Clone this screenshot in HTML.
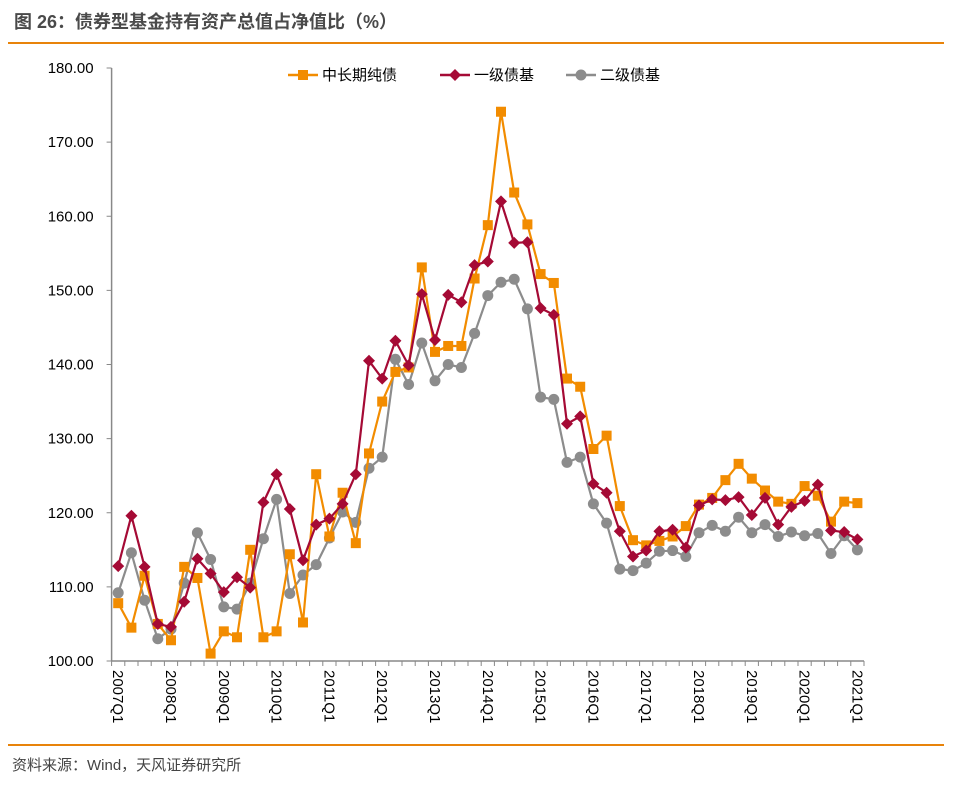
<!DOCTYPE html>
<html><head><meta charset="utf-8"><style>
body{margin:0;background:#fff;width:961px;height:780px;overflow:hidden;font-family:"Liberation Sans","Noto Sans CJK SC",sans-serif;}
</style></head><body>
<svg width="961" height="780" xmlns="http://www.w3.org/2000/svg" font-family="Liberation Sans, Noto Sans CJK SC, sans-serif">
<text x="14" y="28" font-size="18" font-weight="bold" fill="#4a4a4a">图 26：债券型基金持有资产总值占净值比（%）</text>
<line x1="8" y1="43" x2="944" y2="43" stroke="#e8830a" stroke-width="2"/>
<line x1="8" y1="745" x2="944" y2="745" stroke="#e8830a" stroke-width="2"/>
<text x="12" y="770" font-size="15" fill="#444">资料来源：Wind，天风证券研究所</text>
<g id="axes"></g>
<g id="series"></g>
<g font-size="15" fill="#000">
 <line x1="288" y1="75" x2="318" y2="75" stroke="#f28c00" stroke-width="2.5"/><rect x="298" y="70" width="10" height="10" fill="#f28c00"/>
 <text x="322" y="80">中长期纯债</text>
 <line x1="440" y1="75" x2="470" y2="75" stroke="#a50a35" stroke-width="2.5"/><path d="M455 69 L461 75 L455 81 L449 75Z" fill="#a50a35"/>
 <text x="474" y="80">一级债基</text>
 <line x1="566" y1="75" x2="596" y2="75" stroke="#8c8c8c" stroke-width="2.5"/><circle cx="581" cy="75" r="5.5" fill="#8c8c8c"/>
 <text x="600" y="80">二级债基</text>
</g>
</svg>
<script>
const years=["2007","2008","2009","2010","2011","2012","2013","2014","2015","2016","2017","2018","2019","2020","2021"];
const yTicks=[100,110,120,130,140,150,160,170,180];
const midLong=[107.8,104.5,111.5,105,102.8,112.7,111.2,101,104,103.2,115,103.2,104,114.4,105.2,125.2,116.8,122.7,115.9,128,135,139,139.6,153.1,141.7,142.5,142.5,151.6,158.8,174.1,163.2,158.9,152.2,151,138.1,137,128.6,130.4,120.9,116.3,115.6,116.2,116.8,118.2,121.1,122,124.4,126.6,124.6,123,121.5,121.2,123.6,122.3,118.8,121.5,121.3];
const primary=[112.8,119.6,112.7,105,104.6,108,113.8,111.8,109.3,111.3,109.9,121.4,125.2,120.5,113.6,118.4,119.2,121.2,125.2,140.5,138.1,143.2,139.9,149.5,143.3,149.4,148.4,153.4,153.9,162,156.4,156.5,147.6,146.7,132,133,123.9,122.7,117.5,114.1,114.9,117.5,117.7,115.3,121,121.8,121.7,122.1,119.7,122,118.4,120.8,121.6,123.8,117.6,117.4,116.4];
const secondary=[109.2,114.6,108.2,103,104.3,110.5,117.3,113.7,107.3,107,110.5,116.5,121.8,109.1,111.6,113,116.6,120.1,118.7,126,127.5,140.7,137.3,142.9,137.8,140,139.6,144.2,149.3,151.1,151.5,147.5,135.6,135.3,126.8,127.5,121.2,118.6,112.4,112.2,113.2,114.8,114.9,114.1,117.3,118.3,117.5,119.4,117.3,118.4,116.8,117.4,116.9,117.2,114.5,116.9,115];
const NS="http://www.w3.org/2000/svg";
const N=midLong.length, x0=111.6, step=13.2;
const X=i=>x0+step*(i+0.5);
const Y=v=>661-(v-100)*(593/80);
function mk(t,a,p){const e=document.createElementNS(NS,t);for(const k in a)e.setAttribute(k,a[k]);p.appendChild(e);return e;}
const ax=document.getElementById('axes');
const yl=mk('line',{x1:x0,y1:Y(180),x2:x0,y2:Y(100),stroke:'#888','stroke-width':1.5},ax);


yTicks.forEach(t=>{
 const tk=mk('line',{x1:x0-5,y1:Y(t),x2:x0,y2:Y(t),stroke:'#888'},ax);
 
 
 const tx=mk('text',{x:x0-18,y:Y(t)+5,'text-anchor':'end','font-size':15,fill:'#000'},ax);
 tx.textContent=t.toFixed(2);
 
 
});
const xl=mk('line',{x1:x0,y1:Y(100),x2:x0+step*N,y2:Y(100),stroke:'#888','stroke-width':1.5},ax);


for(let i=0;i<=N;i++){
 const tk=mk('line',{x1:x0+step*i,y1:Y(100),x2:x0+step*i,y2:Y(100)+5,stroke:'#888'},ax);
 
 
}
years.forEach((yr,k)=>{
 const i=k*4;
 const tx=mk('text',{x:0,y:0,'font-size':15,fill:'#000',transform:`translate(${X(i)-5},${Y(100)+9}) rotate(90)`},ax);
 tx.textContent=yr+"Q1";
 
 
});
const sg=document.getElementById('series');
function series(data,color,shape,name){
 const g=mk('g',{},sg);
 
 
 const pl=mk('polyline',{points:data.map((v,i)=>X(i)+','+Y(v)).join(' '),fill:'none',stroke:color,'stroke-width':2.2},g);
 
 
 data.forEach((v,i)=>{
  const x=X(i),y=Y(v);let m;
  if(shape==='sq')m=mk('rect',{x:x-5,y:y-5,width:10,height:10,fill:color},g);
  else if(shape==='dm')m=mk('path',{d:`M${x} ${y-6}L${x+6} ${y}L${x} ${y+6}L${x-6} ${y}Z`,fill:color},g);
  else m=mk('circle',{cx:x,cy:y,r:5.5,fill:color},g);
  
  
 });
}
series(secondary,'#8c8c8c','ci','series-secondary');
series(midLong,'#f28c00','sq','series-mid-long');
series(primary,'#a50a35','dm','series-primary');
</script>
</body></html>
